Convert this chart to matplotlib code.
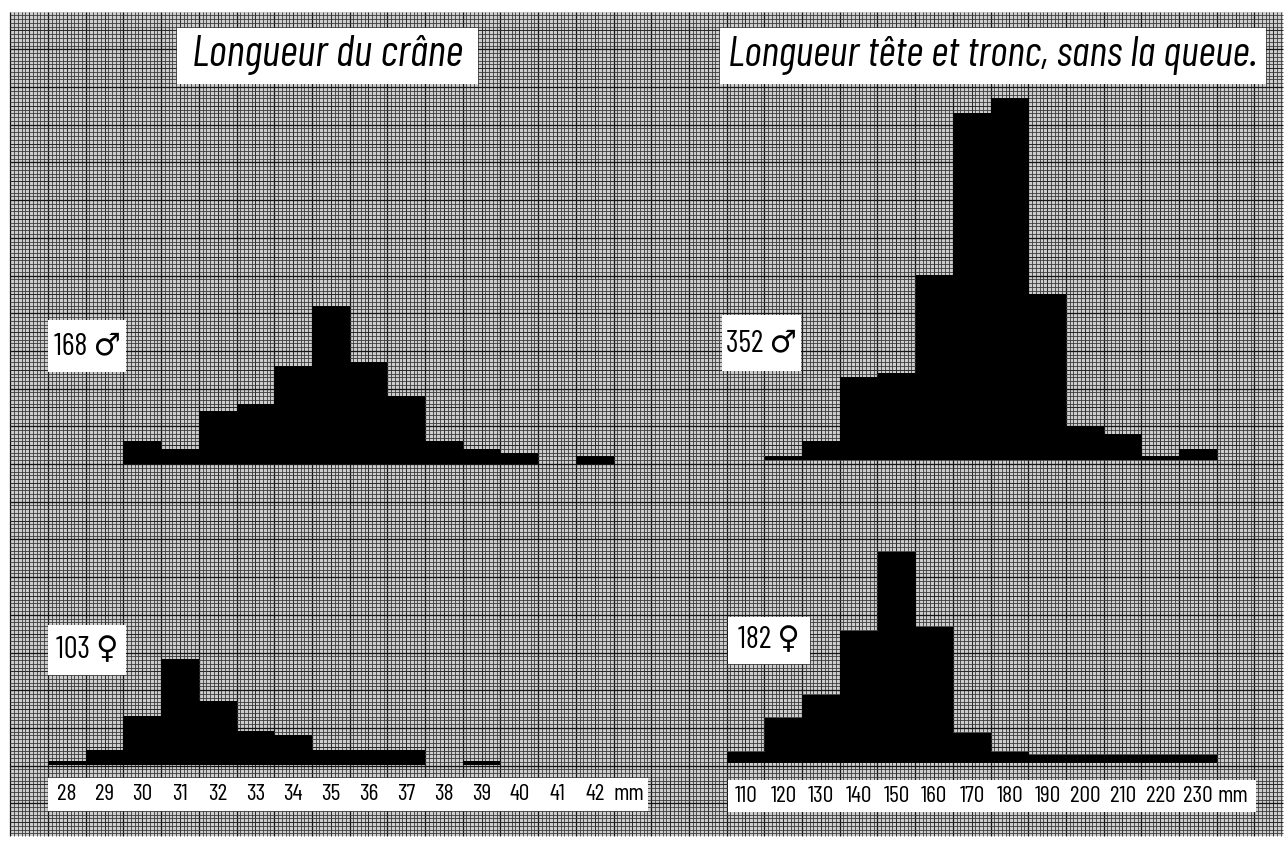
import numpy as np
import matplotlib.pyplot as plt
from matplotlib.patches import Rectangle
from matplotlib.transforms import blended_transform_factory

W, H = 1285, 841
MM = 3.77  # pixels per millimetre of graph paper (1 bin = 10 mm, 1 animal = 1 mm)

# === Data ===
skull_bins = list(range(28, 43))
skull_labels = [str(v) for v in skull_bins]
skull_male = [0, 0, 6, 4, 14, 16, 26, 42, 27, 18, 6, 4, 3, 0, 2]
skull_female = [1, 4, 13, 28, 17, 9, 8, 4, 4, 4, 0, 1, 0, 0, 0]

body_bins = list(range(110, 240, 10))
body_labels = [str(v) for v in body_bins]
body_male = [0, 1, 5, 22, 23, 49, 92, 96, 44, 9, 7, 1, 3]
body_female = [3, 12, 18, 35, 56, 36, 8, 3, 2, 2, 2, 2, 2]

# DIN-like condensed lettering; DejaVu for the ♂ / ♀ signs
FONT = ["Barlow Condensed", "DejaVu Sans"]


def px_axes(fig, x0, y0, x1, y1):
    # axes placed by pixel box (top-left origin)
    return fig.add_axes([x0 / W, 1 - y1 / H, (x1 - x0) / W, (y1 - y0) / H])


def white_box(ax, x0, y0, x1, y1):
    ax.add_patch(Rectangle((x0, y0), x1 - x0, y1 - y0, facecolor="white",
                           edgecolor="none", zorder=5))


fig = plt.figure(figsize=(W / 100, H / 100), dpi=100)
fig.patch.set_facecolor("white")

# === Graph paper background ===
bg = px_axes(fig, 0, 0, W, H)
bg.set_xlim(0, W)
bg.set_ylim(H, 0)
bg.axis("off")

px0, py0, px1, py1 = 10, 12, 1283, 836
bg.add_patch(Rectangle((px0, py0), px1 - px0, py1 - py0, facecolor="#cdcdcd",
                       edgecolor="none", zorder=0))


def grid_style(k):
    if k % 10 == 0:
        return "#141414", 0.9
    if k % 5 == 0:
        return "#262626", 0.7
    return "#3a3a3a", 0.6


kx = np.arange(np.ceil((px0 - 48) / MM), np.floor((px1 - 48) / MM) + 1).astype(int)
ky = np.arange(np.ceil((py0 - 464) / MM), np.floor((py1 - 464) / MM) + 1).astype(int)
for k in kx:
    c, lw = grid_style(k)
    bg.vlines(48 + k * MM, py0, py1, colors=c, lw=lw, zorder=1)
for k in ky:
    c, lw = grid_style(k)
    bg.hlines(464 + k * MM, px0, px1, colors=c, lw=lw, zorder=1)


# === Histograms ===
def hist_axes(x0, x1, base, top, lo, hi):
    ax = px_axes(fig, x0, top, x1, base)
    ax.set_xlim(lo, hi)
    ax.set_ylim(0, (base - top) / MM)
    ax.patch.set_alpha(0)
    ax.axis("off")
    return ax


sk_left, sk_right = 48, 48 + 15 * 10 * MM
bd_left, bd_right = 727, 727 + 13 * 10 * MM

ax_sm = hist_axes(sk_left, sk_right, 464, 290, 27.5, 42.5)
ax_sm.bar(skull_bins, skull_male, width=1.0, color="black", linewidth=0)
ax_sf = hist_axes(sk_left, sk_right, 765, 640, 27.5, 42.5)
ax_sf.bar(skull_bins, skull_female, width=1.0, color="black", linewidth=0)

ax_bm = hist_axes(bd_left, bd_right, 460, 85, 105, 235)
ax_bm.bar(body_bins, body_male, width=10, color="black", linewidth=0)
ax_bf = hist_axes(bd_left, bd_right, 763, 540, 105, 235)
ax_bf.bar(body_bins, body_female, width=10, color="black", linewidth=0)

# === Titles ===
white_box(bg, 177, 28, 478, 84)
bg.text(327, 55, "Longueur du crâne", ha="center", va="center", fontsize=31.5,
        style="italic", family=FONT, zorder=6)
white_box(bg, 720, 28, 1266, 84)
bg.text(993, 55, "Longueur tête et tronc, sans la queue.", ha="center",
        va="center", fontsize=30.5, style="italic", family=FONT, zorder=6)

# === Sample sizes ===
for (x0, y0, x1, y1), txt in [((48, 320, 126, 372), "168 ♂"),
                              ((48, 625, 126, 675), "103 ♀"),
                              ((722, 315, 801, 371), "352 ♂"),
                              ((728, 617, 810, 664), "182 ♀")]:
    white_box(bg, x0, y0, x1, y1)
    bg.text((x0 + x1) / 2, (y0 + y1) / 2, txt, ha="center", va="center",
            fontsize=22, family=FONT, zorder=6)

# === Scale labels ===
white_box(bg, 48, 778, 648, 811)
tr = blended_transform_factory(ax_sm.transData, bg.transData)
for v, lab in zip(skull_bins, skull_labels):
    bg.text(v, 795, lab, transform=tr, ha="center", va="center", fontsize=17,
            family=FONT, zorder=6)
bg.text(42.9, 795, "mm", transform=tr, ha="center", va="center", fontsize=17,
        family=FONT, zorder=6)

white_box(bg, 728, 780, 1256, 812)
tr = blended_transform_factory(ax_bm.transData, bg.transData)
for v, lab in zip(body_bins, body_labels):
    bg.text(v, 797, lab, transform=tr, ha="center", va="center", fontsize=17,
            family=FONT, zorder=6)
bg.text(239.2, 797, "mm", transform=tr, ha="center", va="center", fontsize=17,
        family=FONT, zorder=6)

fig.savefig("out.png", dpi=100)
